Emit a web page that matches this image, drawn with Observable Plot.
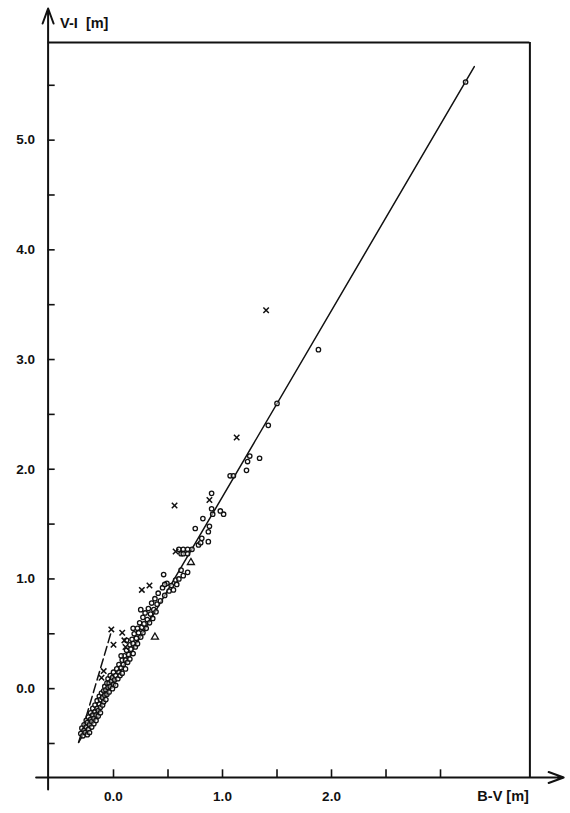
<!DOCTYPE html>
<html>
<head>
<meta charset="utf-8">
<script src="https://cdn.jsdelivr.net/npm/d3@7"></script>
<script src="https://cdn.jsdelivr.net/npm/@observablehq/plot@0.6"></script>
<style>
  html, body { margin: 0; padding: 0; background: #fff; }
  svg { display: block; }
</style>
</head>
<body>
<div id="chart"></div>
<script>
// ---- data ----
const circleBV = [
  -0.30,-0.29,-0.28,-0.27,-0.27,-0.26,-0.25,-0.25,-0.24,-0.24,-0.23,-0.23,-0.22,-0.22,-0.21,-0.21,-0.20,-0.20,-0.19,-0.19,
  -0.18,-0.18,-0.17,-0.17,-0.16,-0.16,-0.15,-0.15,-0.14,-0.14,-0.13,-0.13,-0.12,-0.12,-0.12,-0.11,-0.10,-0.10,-0.09,-0.09,
  -0.08,-0.08,-0.07,-0.07,-0.06,-0.06,-0.05,-0.05,-0.04,-0.04,-0.03,-0.03,-0.02,-0.01,-0.01,0.00,0.00,0.01,0.02,0.02,
  0.03,0.04,0.05,0.05,0.06,0.07,0.08,0.08,0.09,0.10,0.11,0.11,0.12,0.13,0.14,0.15,0.15,0.16,0.17,0.18,
  0.18,0.19,0.20,0.21,0.22,0.22,0.23,0.24,0.25,0.26,0.27,0.27,0.28,0.29,0.30,0.31,0.32,0.33,0.34,0.35,
  0.36,0.37,0.38,0.39,0.40,0.41,0.43,0.45,0.47,0.49,0.51,0.53,0.18,0.12,0.25,0.07,
  0.46,0.62,0.68,0.64,0.47,0.57,0.55,0.58,0.60,0.62,0.64,0.68,0.60,0.64,0.68,0.72,
  0.78,0.80,0.81,0.87,0.75,0.87,0.88,0.82,0.91,1.01,0.98,0.90,0.90,1.07,1.10,1.22,1.23,1.25,1.34,1.42,
  1.50,1.88,3.23
];
const circleVI = [
  -0.41,-0.36,-0.43,-0.38,-0.33,-0.40,-0.35,-0.29,-0.42,-0.31,-0.37,-0.26,-0.33,-0.40,-0.28,-0.22,-0.35,-0.30,-0.24,-0.18,
  -0.32,-0.27,-0.21,-0.15,-0.29,-0.24,-0.18,-0.11,-0.25,-0.20,-0.14,-0.07,-0.22,-0.17,-0.10,-0.04,-0.15,-0.08,-0.12,-0.02,
  -0.06,0.02,-0.10,-0.01,0.05,-0.05,0.01,0.09,-0.03,0.05,0.12,0.02,0.07,0.00,0.10,0.04,0.15,0.08,0.12,0.03,
  0.18,0.09,0.15,0.22,0.12,0.19,0.26,0.14,0.22,0.30,0.18,0.26,0.35,0.24,0.31,0.40,0.27,0.36,0.45,0.32,
  0.41,0.50,0.38,0.46,0.55,0.41,0.51,0.60,0.47,0.56,0.65,0.51,0.59,0.69,0.55,0.63,0.73,0.60,0.68,0.78,
  0.64,0.72,0.82,0.70,0.77,0.87,0.80,0.92,0.85,0.96,0.89,0.94,0.55,0.44,0.72,0.30,
  1.04,1.08,1.06,1.03,0.95,0.99,0.90,0.95,1.00,1.23,1.23,1.23,1.27,1.27,1.27,1.27,
  1.31,1.33,1.37,1.34,1.46,1.43,1.48,1.55,1.59,1.59,1.62,1.64,1.78,1.94,1.94,1.99,2.07,2.12,2.10,2.40,
  2.60,3.09,5.53
];
const crossBV = [-0.02, 0.00, -0.09, -0.11, 0.08, 0.10, 0.11, 0.26, 0.33, 0.57, 0.56, 0.88, 1.13, 1.40];
const crossVI = [0.54, 0.40, 0.16, 0.10, 0.51, 0.44, 0.38, 0.90, 0.94, 1.25, 1.67, 1.72, 2.29, 3.45];
const triangleBV = [0.38, 0.71];
const triangleVI = [0.47, 1.15];
// regression line (solid) and dashed line end points
const fitBV = [-0.32, 3.31];
const fitVI = [-0.49, 5.67];
const dashBV = [-0.32, -0.02];
const dashVI = [-0.49, 0.52];
// axes
const xTickLabels = [0, 1, 2];
const xMinorTicks = [0, 0.5, 1, 1.5, 2, 2.5, 3];
const yTickLabels = [0, 1, 2, 3, 4, 5];
const yMinorTicks = [-0.5, 0, 0.5, 1, 1.5, 2, 2.5, 3, 3.5, 4, 4.5, 5, 5.5];
const xTitle = "B-V [m]";
const yTitle = "V-I  [m]";

// ---- tables ----
const circles = circleBV.map((x, i) => ({x, y: circleVI[i]}));
const crosses = crossBV.map((x, i) => ({x, y: crossVI[i]}));
const triangles = triangleBV.map((x, i) => ({x, y: triangleVI[i]}));
const fit = fitBV.map((x, i) => ({x, y: fitVI[i]}));
const dash = dashBV.map((x, i) => ({x, y: dashVI[i]}));

const X0 = -0.6, X1 = 3.82, Y0 = -0.81, Y1 = 5.89;
const font = "'Liberation Sans', Arial, sans-serif";

const chart = Plot.plot({
  width: 570,
  height: 813,
  marginLeft: 47.6,
  marginRight: 40.6,
  marginTop: 42,
  marginBottom: 36,
  style: {fontFamily: font, background: "#fff"},
  x: {domain: [X0, X1], axis: null},
  y: {domain: [Y0, Y1], axis: null},
  marks: [
    // frame: top and right
    Plot.ruleY([Y1], {x1: X0, x2: X1, stroke: "#111", strokeWidth: 2}),
    Plot.ruleX([X1], {y1: Y0, y2: Y1, stroke: "#111", strokeWidth: 2}),
    // axes with arrows
    Plot.arrow([{x1: -0.71, y1: Y0, x2: 4.13, y2: Y0}], {x1: "x1", y1: "y1", x2: "x2", y2: "y2", stroke: "#111", strokeWidth: 2, headLength: 12, headAngle: 40}),
    Plot.arrow([{x1: X0, y1: -0.92, x2: X0, y2: 6.2}], {x1: "x1", y1: "y1", x2: "x2", y2: "y2", stroke: "#111", strokeWidth: 2, headLength: 12, headAngle: 40}),
    // tick marks (inside)
    Plot.ruleX(xMinorTicks, {y1: Y0, y2: Y0 + 0.07, stroke: "#111", strokeWidth: 1.6}),
    Plot.ruleY(yMinorTicks, {x1: X0, x2: X0 + 0.065, stroke: "#111", strokeWidth: 1.6}),
    // tick labels
    Plot.text(xTickLabels, {x: d => d, y: Y0, dy: 19, text: d => d3.format(".1f")(d), fontSize: 13.5, fontWeight: 600, fill: "#111"}),
    Plot.text(yTickLabels, {x: X0, y: d => d, dx: -13, textAnchor: "end", text: d => d3.format(".1f")(d), fontSize: 13.5, fontWeight: 600, fill: "#111"}),
    // axis titles
    Plot.text([yTitle], {x: X0, y: Y1, dx: 12, dy: -19, textAnchor: "start", text: d => d, fontSize: 14.5, fontWeight: 600, fill: "#111"}),
    Plot.text([xTitle], {x: X1, y: Y0, dx: -1, dy: 19, textAnchor: "end", text: d => d, fontSize: 14.5, fontWeight: 600, fill: "#111"}),
    // lines
    Plot.line(dash, {x: "x", y: "y", stroke: "#111", strokeWidth: 1.5, strokeDasharray: "9,4"}),
    Plot.line(fit, {x: "x", y: "y", stroke: "#111", strokeWidth: 1.5}),
    // data points
    Plot.dot(circles, {x: "x", y: "y", r: 2.2, stroke: "#111", strokeWidth: 1.3, fill: "#fff", fillOpacity: 0.5}),
    Plot.dot(crosses, {x: "x", y: "y", symbol: "times", r: 2.6, stroke: "#111", strokeWidth: 1.5}),
    Plot.dot(triangles, {x: "x", y: "y", symbol: "triangle", r: 2.6, stroke: "#111", strokeWidth: 1.3, fill: "none"})
  ]
});
document.getElementById("chart").appendChild(chart);
</script>
</body>
</html>
